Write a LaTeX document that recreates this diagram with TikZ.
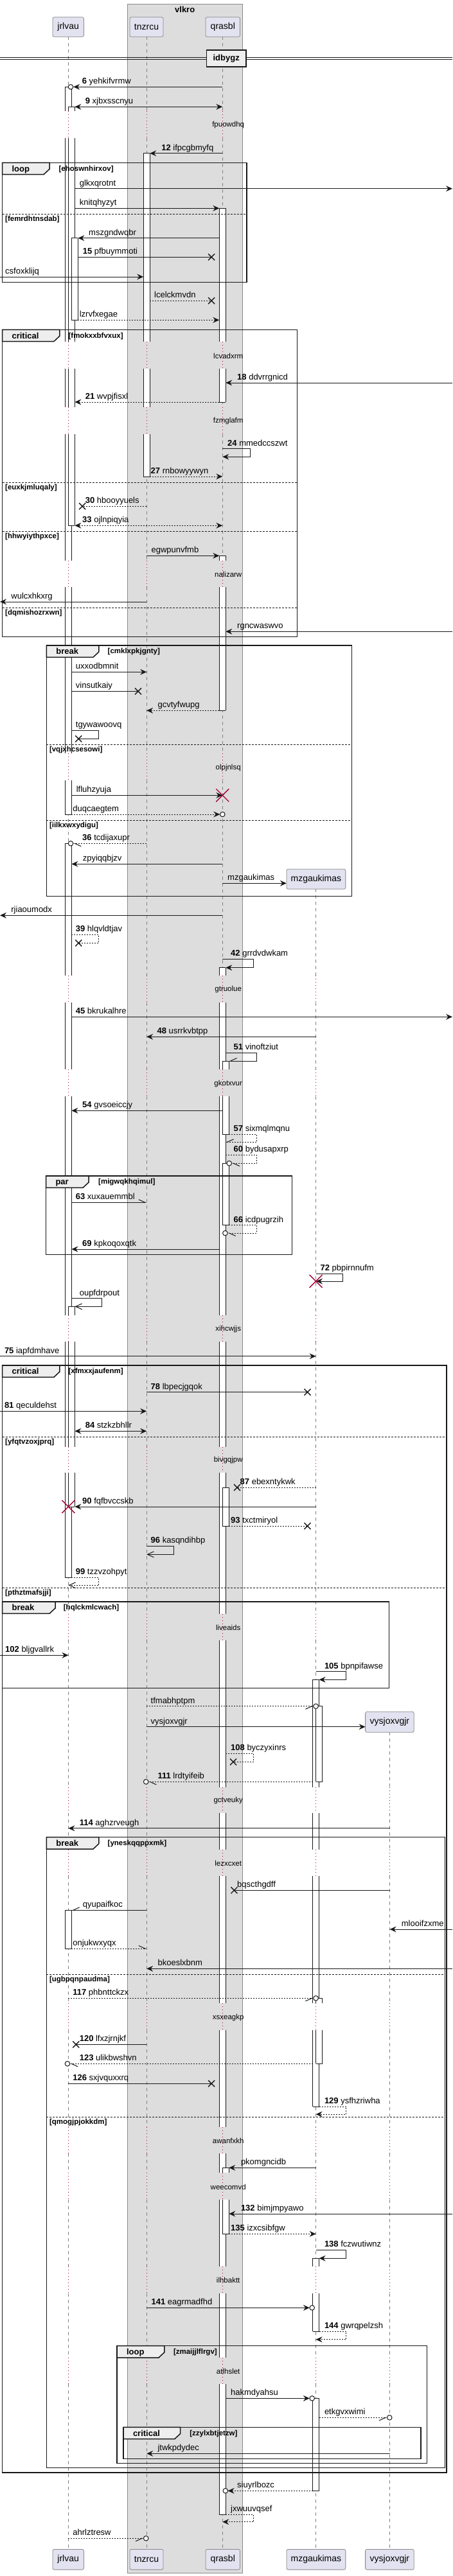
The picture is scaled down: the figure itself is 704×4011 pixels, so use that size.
\documentclass[tikz,border=0pt]{standalone}
\usepackage{fontspec}
\setmainfont{Liberation Sans}
\usetikzlibrary{arrows.meta}
\definecolor{pfill}{HTML}{E2E2F0}
\definecolor{pborder}{HTML}{8A8A8A}
\definecolor{boxfill}{HTML}{DDDDDD}
\definecolor{boxborder}{HTML}{8A8A8A}
\definecolor{tabfill}{HTML}{EEEEEE}
\definecolor{crim}{HTML}{A80036}
\definecolor{lifegray}{HTML}{808080}
\definecolor{ink}{HTML}{181818}

\newcommand\delaylist{173.3/215, 532.3/574.3, 634.3/676, 873.3/914.3, 1173.3/1215.3, 1519.3/1560.7, 1665/1706.7, 2047.7/2089, 2252.7/2293.3, 2512.7/2554, 2782.7/2823.3, 2880/2921, 3119.3/3161, 3311.7/3352.7, 3383.3/3425, 3529.3/3571, 3670.7/3712}

\tikzset{
  lbl/.style={anchor=base west, inner sep=0pt, font=\fontsize{13}{15}\selectfont},
  delaylbl/.style={inner sep=0pt, font=\fontsize{11.5}{13}\selectfont},
  guardlbl/.style={anchor=base west, inner sep=0pt, font=\fontsize{11.5}{13}\selectfont\bfseries},
  tablbl/.style={anchor=base west, inner sep=0pt, font=\fontsize{13}{15}\selectfont\bfseries},
  part/.style={draw=pborder, fill=pfill, rounded corners=2.5pt, line width=0.8pt, inner sep=0pt, font=\fontsize{14}{16}\selectfont},
  life/.style={draw=lifegray, line width=0.8pt, dash pattern=on 5pt off 5pt},
  delayline/.style={draw=crim, line width=1pt, dash pattern=on 1pt off 4pt},
  barline/.style={draw=ink, line width=0.8pt},
  msgl/.style={draw=ink, line width=1pt},
  dmsg/.style={draw=ink, line width=1pt, dash pattern=on 2pt off 2pt},
  frameline/.style={draw=ink, line width=1.5pt},
  afill/.style={-{Stealth[length=10pt,width=9pt,inset=3.5pt]}},
  abot/.style={{Stealth[length=10pt,width=9pt,inset=3.5pt]}-{Stealth[length=10pt,width=9pt,inset=3.5pt]}},
  aopen/.style={-{Straight Barb[length=10pt,width=9pt]}},
  ahl/.style={-{Straight Barb[left,length=10pt,width=9pt]}},
  ahr/.style={-{Straight Barb[right,length=10pt,width=9pt]}}
}

\newcommand\lifeln[3]{%
  \xdef\lprev{#2}%
  \foreach \a/\b in \delaylist {%
    \pgfmathtruncatemacro\cnd{and(\a>#2,\a<#3)}%
    \ifnum\cnd=1
      \draw[life] (#1,\lprev) -- (#1,\a);
      \draw[delayline] (#1,\a) -- (#1,\b);
      \xdef\lprev{\b}%
    \fi
  }%
  \draw[life] (#1,\lprev) -- (#1,#3);
}
\newcommand\barseg[3]{%
  \fill[white] (#1,#2) rectangle (#1+10,#3);
  \draw[barline] (#1,#2) -- (#1,#3) (#1+10,#2) -- (#1+10,#3);
}
\newcommand\actbar[3]{%
  \xdef\bprev{#2}%
  \foreach \a/\b in \delaylist {%
    \pgfmathtruncatemacro\cnd{and(\a>#2,\b<#3)}%
    \ifnum\cnd=1
      \barseg{#1}{\bprev}{\a}%
      \xdef\bprev{\b}%
    \fi
  }%
  \barseg{#1}{\bprev}{#3}%
  \draw[barline] (#1,#2) -- (#1+10,#2) (#1,#3) -- (#1+10,#3);
}
\newcommand\mess[7]{%
  \draw[#1] (#2,#4) -- (#3,#4);
  \node[lbl] (#6) at (#5,#4-4.5) {#7};
}
\newcommand\selfm[9]{%
  \draw[#1] (#2,#4) -- (#3,#4) -- (#3,#5) -- (#6,#5);
  \node[lbl] (#8) at (#7,#4-4.5) {#9};
}
\newcommand\lostx[2]{\draw[ink, line width=1.4pt] (#1-5,#2-5) -- (#1+5,#2+5) (#1-5,#2+5) -- (#1+5,#2-5);}
\newcommand\killx[2]{\draw[crim, line width=1.4pt] (#1-10,#2-10) -- (#1+10,#2+10) (#1-10,#2+10) -- (#1+10,#2-10);}
\newcommand\tipcirc[2]{\draw[ink, line width=1pt, fill=white] (#1,#2) circle[radius=3.8pt];}
\newcommand\frm[9]{%
  \draw[frameline] (#1,#2) rectangle (#3,#4);
  \draw[frameline, fill=tabfill] (#1,#2) -- (#5,#2) -- (#5,#2+10) -- (#5-9,#2+18.4) -- (#1,#2+18.4) -- cycle;
  \node[tablbl] (#9k) at (#1+14.8,#2+13.8) {#6};
  \node[guardlbl] (#9g) at (#7,#2+12.8) {#8};
}
\newcommand\elsep[5]{%
  \draw[ink, line width=0.9pt, dash pattern=on 3pt off 2pt] (#1,#3) -- (#2,#3);
  \node[guardlbl] (#4) at (#1+4.4,#3+11.5) {#5};
}
\newcommand\dtext[3]{\node[delaylbl] (#2) at (355.2,#1) {#3};}

\begin{document}
\begin{tikzpicture}[x=1pt,y=-1pt]
\useasboundingbox (0,0) rectangle (704,4011);
\fill[white] (0,0) rectangle (704,4011);

% box vlkro
\draw[boxborder, fill=boxfill, line width=0.8pt] (198.3,6) rectangle (377.1,4006);
\node[font=\fontsize{13}{15}\selectfont\bfseries, inner sep=0pt] (vlk) at (287.7,15) {vlkro};

% lifelines
\lifeln{106.4}{57.3}{3969.3}
\lifeln{228.2}{57.3}{3969.3}
\lifeln{346.3}{57.3}{3969.3}
\lifeln{491.6}{1384.3}{3969.3}
\lifeln{606.6}{2697.3}{3969.3}

% activation bars
\actbar{101.4}{135.3}{1268}
\actbar{101.4}{1313.3}{2456}
\actbar{101.4}{2974.3}{3034}
\actbar{106.4}{166.3}{818.3}
\actbar{106.4}{2034.3}{2346}
\actbar{111.4}{370.7}{498.3}
\actbar{223.2}{238.7}{742}
\actbar{341.3}{324.3}{626}
\actbar{341.3}{865.3}{1106.3}
\actbar{341.3}{1506.7}{3915}
\actbar{346.3}{1652}{1766.3}
\actbar{346.3}{1811.3}{1907.7}
\actbar{346.3}{2316}{2376}
\actbar{346.3}{3375.3}{3478.3}
\actbar{486.6}{2615.3}{3280}
\actbar{486.6}{3516.3}{3630}
\actbar{486.6}{3734.3}{3878.3}
\actbar{491.6}{2656.7}{2774.3}
\actbar{491.6}{3111.3}{3213.3}

% frames
\frm{3.6}{253.3}{383.9}{439.3}{77}{loop}{91.4}{[ehoswnhirxov]}{f1}
\elsep{3.6}{383.9}{333.3}{e1}{[femrdhtnsdab]}
\frm{3.6}{513.3}{462.7}{991.7}{92.8}{critical}{106.4}{[fmokxxbfvxux]}{f2}
\elsep{3.6}{462.7}{751}{e2}{[euxkjmluqaly]}
\elsep{3.6}{462.7}{827.3}{e3}{[hhwyiythpxce]}
\elsep{3.6}{462.7}{946}{e4}{[dqmishozrxwn]}
\frm{72.4}{1005}{547.7}{1395.3}{153.9}{break}{167.5}{[cmklxpkjgnty]}{f3}
\elsep{72.4}{547.7}{1159.3}{e5}{[vqjxhcsesowi]}
\elsep{72.4}{547.7}{1277}{e6}{[iilkxwxydigu]}
\frm{71.5}{1831}{454.5}{1953.3}{138}{par}{153}{[migwqkhqimul]}{f4}
\frm{3.6}{2126}{694.9}{3850}{92.8}{critical}{106.4}{[xfmxxjaufenm]}{f5}
\elsep{3.6}{694.9}{2237.3}{e7}{[yfqtvzoxjprq]}
\elsep{3.6}{694.9}{2472.3}{e8}{[pthztmafsjji]}
\frm{3.6}{2494}{605.7}{2628.3}{86}{break}{98.7}{[hqlckmlcwach]}{f6}
\frm{72.4}{2860.7}{692.6}{3842.3}{153.9}{break}{167.5}{[yneskqqppxmk]}{f7}
\elsep{72.4}{692.6}{3074.3}{e9}{[ugbpqnpaudma]}
\elsep{72.4}{692.6}{3296.3}{e10}{[qmogjpjokkdm]}
\frm{182}{3652.7}{664.5}{3835.7}{255.8}{loop}{269.8}{[zmaijjlflrgv]}{f8}
\frm{192}{3779.3}{655}{3828.7}{280.7}{critical}{295.2}{[zzylxbtjetzw]}{f9}

% divider
\draw[ink, line width=1pt] (0,89.3) -- (704,89.3) (0,92.7) -- (704,92.7);
\node[draw=ink, line width=1.5pt, fill=tabfill, minimum width=61.6pt, minimum height=26pt, inner sep=0pt, font=\fontsize{13}{15}\selectfont\bfseries] (div) at (352.2,91) {idbygz};

% delays
\dtext{195}{d1}{fpuowdhq}
\dtext{554}{d2}{lcvadxrm}
\dtext{656}{d3}{fzmglafm}
\dtext{894.3}{d4}{nalizarw}
\dtext{1195.3}{d5}{olpjnlsq}
\dtext{1541}{d6}{gtruolue}
\dtext{1687.3}{d7}{gkotxvur}
\dtext{2069.3}{d8}{xihcwjjs}
\dtext{2273.3}{d9}{bivgqjpw}
\dtext{2534}{d10}{liveaids}
\dtext{2803.3}{d11}{gctveuky}
\dtext{2901}{d12}{lezxcxet}
\dtext{3141.3}{d13}{xsxeagkp}
\dtext{3333.3}{d14}{awanfxkh}
\dtext{3405.3}{d15}{weecomvd}
\dtext{3550.7}{d16}{ilhbaktt}
\dtext{3692}{d17}{atlhslet}

% messages
\mess{msgl,afill}{346.3}{114.2}{135.3}{127.7}{m1}{\textbf{6} yehkifvrmw}\tipcirc{110}{135.3}
\mess{msgl,abot}{116.4}{346.3}{166.3}{132.6}{m2}{\textbf{9} xjbxsscnyu}
\mess{msgl,afill}{346.3}{233.2}{238.7}{251.2}{m3}{\textbf{12} ifpcgbmyfq}
\mess{msgl,afill}{116.4}{704}{293.7}{123.6}{m4}{glkxqrotnt}
\mess{msgl,afill}{116.4}{341.3}{324.3}{123.6}{m5}{knitqhyzyt}
\mess{msgl,afill}{341.3}{121.4}{370.7}{138}{m6}{mszgndwqbr}
\mess{msgl}{121.4}{329.1}{400.3}{128.6}{m7}{\textbf{15} pfbuymmoti}\lostx{329.1}{400.3}
\mess{msgl,afill}{0}{223.2}{431}{8}{m8}{csfoxklijq}
\mess{dmsg}{233.2}{329.1}{468.3}{240}{m9}{lcelckmvdn}\lostx{329.1}{468.3}
\mess{dmsg,afill}{121.4}{341.3}{498.3}{123.6}{m10}{lzrvfxegae}
\mess{msgl,afill}{704}{351.3}{596}{369}{m11}{\textbf{18} ddvrrgnicd}
\mess{dmsg,afill}{341.3}{116.4}{626}{132.6}{m12}{\textbf{21} wvpjfisxl}
\selfm{msgl,afill}{346.3}{389.3}{698.7}{711.3}{346.3}{354}{m13}{\textbf{24} mmedccszwt}
\mess{dmsg,afill}{233.2}{346.3}{742}{234.5}{m14}{\textbf{27} rnbowyywyn}
\mess{dmsg}{228.2}{128.1}{788.3}{132.6}{m15}{\textbf{30} hbooyyuels}\lostx{128.1}{788.3}
\mess{dmsg,abot}{116.4}{346.3}{818.3}{128}{m16}{\textbf{33} ojlnpiqyia}
\mess{msgl,afill}{228.2}{341.3}{865.3}{235.4}{m17}{egwpunvfmb}
\mess{msgl,afill}{228.2}{0}{937}{17.2}{m18}{wulcxhkxrg}
\mess{msgl,afill}{704}{351.3}{983.3}{369}{m19}{rgncwaswvo}
\mess{msgl,afill}{111.4}{228.2}{1046.3}{117.7}{m20}{uxxodbmnit}
\mess{msgl}{111.4}{215}{1076.3}{117.7}{m21}{vinsutkaiy}\lostx{215}{1076.3}
\mess{dmsg,afill}{341.3}{228.2}{1106.3}{245.4}{m22}{gcvtyfwupg}
\selfm{msgl}{111.4}{153.9}{1137.3}{1150.3}{122.2}{117.7}{m23}{tgywawoovq}\lostx{122.2}{1150.3}
\mess{msgl,afill}{111.4}{346.3}{1238.3}{118.6}{m24}{lfluhzyuja}\killx{346.3}{1238.3}
\mess{dmsg,afill}{111.4}{342.3}{1268}{113.2}{m25}{duqcaegtem}\tipcirc{346.3}{1268}
\mess{dmsg,ahl}{228.2}{114}{1313.3}{128}{m26}{\textbf{36} tcdijaxupr}\tipcirc{110}{1313.3}
\mess{msgl,afill}{346.3}{111.4}{1345.3}{128.6}{m27}{zpyiqqbjzv}
\mess{msgl,afill}{346.3}{445.9}{1375.3}{354}{m28}{mzgaukimas}
\mess{msgl,afill}{346.3}{0}{1425.3}{17.2}{m29}{rjiaoumodx}
\selfm{dmsg}{111.4}{153.9}{1455.3}{1468.3}{122.2}{117.7}{m30}{\textbf{39} hlqvldtjav}\lostx{122.2}{1468.3}
\selfm{msgl,afill}{346.3}{394.7}{1493.3}{1506.7}{351.3}{359}{m31}{\textbf{42} grrdvdwkam}
\mess{msgl,afill}{111.4}{704}{1583.3}{117.7}{m32}{\textbf{45} bkrukalhre}
\mess{msgl,afill}{491.6}{228.2}{1614.3}{244.4}{m33}{\textbf{48} usrrkvbtpp}
\selfm{msgl,ahr}{351.3}{399.7}{1639.3}{1652}{356.3}{363.5}{m34}{\textbf{51} vinoftziut}
\mess{msgl,afill}{346.3}{111.4}{1729.3}{128}{m35}{\textbf{54} gvsoeiccjy}
\selfm{dmsg,ahr}{356.3}{399.7}{1766.3}{1778.3}{351.3}{363.5}{m36}{\textbf{57} sixmqlmqnu}
\selfm{dmsg,ahl}{351.3}{399.7}{1798.3}{1811.3}{360.7}{363.5}{m37}{\textbf{60} bydusapxrp}\tipcirc{356.7}{1811.3}
\mess{msgl,ahl}{111.4}{228.2}{1872.3}{117.7}{m38}{\textbf{63} xuxauemmbl}
\selfm{dmsg,ahl}{356.3}{399.7}{1907.7}{1920}{354.4}{363.5}{m39}{\textbf{66} icdpugrzih}\tipcirc{350.4}{1920}
\mess{msgl,afill}{341.3}{111.4}{1945}{128}{m40}{\textbf{69} kpkoqoxqtk}
\selfm{msgl,afill}{491.6}{533.7}{1983.3}{1995}{492}{498.4}{m41}{\textbf{72} pbpirnnufm}\killx{491.6}{1995}
\selfm{msgl,aopen}{111.4}{158.9}{2021.7}{2034.3}{116.4}{123.6}{m42}{oupfdrpout}
\mess{msgl,afill}{0}{491.6}{2111.7}{6.8}{m43}{\textbf{75} iapfdmhave}
\mess{msgl}{228.2}{478.5}{2167.7}{234.5}{m44}{\textbf{78} lbpecjgqok}\lostx{478.5}{2167.7}
\mess{msgl,afill}{0}{228.2}{2197.3}{6.8}{m45}{\textbf{81} qeculdehst}
\mess{msgl,abot}{116.4}{228.2}{2228.3}{132.6}{m46}{\textbf{84} stzkzbhllr}
\mess{dmsg}{491.6}{369}{2316}{373.5}{m47}{\textbf{87} ebexntykwk}\lostx{369}{2316}
\mess{msgl,afill}{491.6}{116.4}{2346}{128}{m48}{\textbf{90} fqfbvccskb}\killx{106.4}{2346}
\mess{dmsg}{356.3}{478.5}{2376}{359}{m49}{\textbf{93} txctmiryol}\lostx{478.5}{2376}
\selfm{msgl,aopen}{228.2}{270.7}{2407.3}{2420.3}{228.2}{234.5}{m50}{\textbf{96} kasqndihbp}
\selfm{dmsg,aopen}{111.4}{153.9}{2456}{2468.3}{106.4}{117.7}{m51}{\textbf{99} tzzvzohpyt}
\mess{msgl,afill}{0}{106.4}{2577.3}{8}{m52}{\textbf{102} bljgvallrk}
\selfm{msgl,afill}{491.6}{538.7}{2602.7}{2615.3}{496.6}{504.8}{m53}{\textbf{105} bpnpifawse}
\mess{dmsg,ahr}{228.2}{487.8}{2656.7}{234.5}{m54}{tfmabhptpm}\tipcirc{491.6}{2656.7}
\mess{msgl,afill}{228.2}{568.6}{2688.7}{234.5}{m55}{vysjoxvgjr}
\selfm{dmsg}{351.3}{394.7}{2730.3}{2743.3}{363}{359}{m56}{\textbf{108} byczyxinrs}\lostx{363}{2743.3}
\mess{dmsg,ahl}{486.6}{231}{2774.3}{245.4}{m57}{\textbf{111} lrdtyifeib}\tipcirc{227.2}{2774.3}
\mess{msgl,afill}{606.6}{106.4}{2846.7}{123.6}{m58}{\textbf{114} aghzrveugh}
\mess{msgl}{606.6}{364.4}{2943.3}{369}{m59}{bqscthgdff}\lostx{364.4}{2943.3}
\mess{msgl,ahr}{228.2}{111.4}{2974.3}{128.6}{m60}{qyupaifkoc}
\mess{msgl,afill}{704}{606.6}{3004}{624.7}{m61}{mlooifzxme}
\mess{dmsg,ahl}{111.4}{228.2}{3034}{113.2}{m62}{onjukwxyqx}
\mess{msgl,afill}{704}{228.2}{3065.3}{245.4}{m63}{bkoeslxbnm}
\mess{dmsg,ahr}{106.4}{487.8}{3111.3}{113.2}{m64}{\textbf{117} phbnttckzx}\tipcirc{491.6}{3111.3}
\mess{msgl}{228.2}{118.2}{3183.3}{123.6}{m65}{\textbf{120} lfxzjrnjkf}\lostx{118.2}{3183.3}
\mess{dmsg,ahl}{486.6}{108.8}{3213.3}{123.6}{m66}{\textbf{123} ulikbwshvn}\tipcirc{105}{3213.3}
\mess{msgl}{106.4}{329.1}{3244.3}{113.2}{m67}{\textbf{126} sxjvquxxrq}\lostx{329.1}{3244.3}
\selfm{dmsg,afill}{496.6}{538.7}{3280}{3292}{491.6}{504.8}{m68}{\textbf{129} ysfhzriwha}
\mess{msgl,afill}{491.6}{356.3}{3375.3}{374.8}{m69}{pkomgncidb}
\mess{msgl,afill}{704}{356.3}{3447}{374.8}{m70}{\textbf{132} bimjmpyawo}
\mess{dmsg,afill}{356.3}{491.6}{3478.3}{359}{m71}{\textbf{135} izxcsibfgw}
\selfm{msgl,afill}{491.6}{538.7}{3503.3}{3516.3}{496.6}{504.8}{m72}{\textbf{138} fczwutiwnz}
\mess{msgl,afill}{228.2}{481.9}{3593.3}{235.4}{m73}{\textbf{141} eagrmadfhd}\tipcirc{485.7}{3593.3}
\selfm{dmsg,afill}{496.6}{538.7}{3630}{3642.7}{491.6}{504.8}{m74}{\textbf{144} gwrqpelzsh}
\mess{msgl,afill}{351.3}{481.9}{3734.3}{359}{m75}{hakmdyahsu}\tipcirc{485.7}{3734.3}
\mess{dmsg,ahr}{496.6}{602.4}{3764.3}{504.8}{m76}{etkgvxwimi}\tipcirc{606.2}{3764.3}
\mess{msgl,afill}{606.6}{228.2}{3820.3}{245.4}{m77}{jtwkpdydec}
\mess{dmsg,afill}{486.6}{354.6}{3878.3}{369}{m78}{siuyrlbozc}\tipcirc{350.8}{3878.3}
\selfm{dmsg,afill}{351.3}{394.7}{3915}{3926.7}{346.3}{359}{m79}{jxwuuvqsef}
\mess{dmsg,ahr}{106.4}{223.4}{3952.3}{113.2}{m80}{ahrlztresw}\tipcirc{227.2}{3952.3}

% participants
\node[part, minimum width=48.5pt, minimum height=30.6pt] (pj1) at (106.2,42) {jrlvau};
\node[part, minimum width=52.1pt, minimum height=30.6pt] (pt1) at (228,42) {tnzrcu};
\node[part, minimum width=53.5pt, minimum height=30.6pt] (pq1) at (346.8,42) {qrasbl};
\node[part, minimum width=91.9pt, minimum height=31pt] (pm1) at (491.9,1368.8) {mzgaukimas};
\node[part, minimum width=75.6pt, minimum height=32pt] (pv1) at (606.4,2681.3) {vysjoxvgjr};
\node[part, minimum width=48.5pt, minimum height=31.7pt] (pj2) at (106.2,3985.2) {jrlvau};
\node[part, minimum width=52.1pt, minimum height=31.7pt] (pt2) at (228,3985.2) {tnzrcu};
\node[part, minimum width=53.5pt, minimum height=31.7pt] (pq2) at (346.8,3985.2) {qrasbl};
\node[part, minimum width=91.9pt, minimum height=31.7pt] (pm2) at (491.9,3985.2) {mzgaukimas};
\node[part, minimum width=75.6pt, minimum height=31.7pt] (pv2) at (606.4,3985.2) {vysjoxvgjr};
\end{tikzpicture}
\end{document}
